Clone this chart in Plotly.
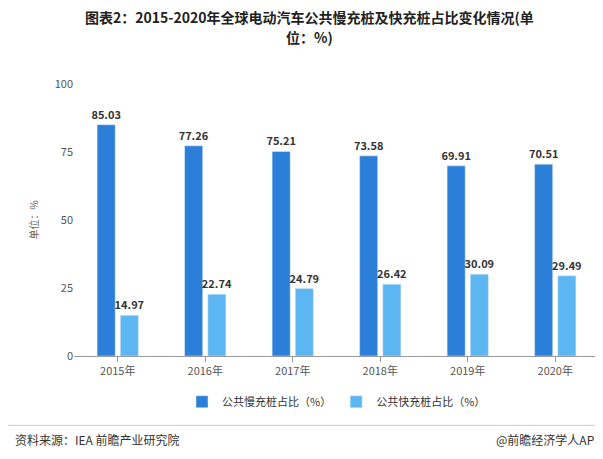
import plotly.graph_objects as go

years = ["2015年", "2016年", "2017年", "2018年", "2019年", "2020年"]
slow = [85.03, 77.26, 75.21, 73.58, 69.91, 70.51]
fast = [14.97, 22.74, 24.79, 26.42, 30.09, 29.49]

font = "Noto Sans CJK SC"
fig = go.Figure()
for vals, name, col in [(slow, "公共慢充桩占比（%）", "#2b7fd8"), (fast, "公共快充桩占比（%）", "#5cb6f2")]:
    fig.add_bar(x=years, y=vals, name=name, marker_color=col,
                text=[f"<b>{v:.2f}</b>" for v in vals], textposition="outside",
                constraintext="none",
                textfont=dict(size=11, color="#333", family=font), cliponaxis=False)
fig.update_layout(
    width=603, height=459, plot_bgcolor="white", paper_bgcolor="white",
    font=dict(family=font, size=11, color="#555"),
    barmode="group", bargap=0.47, bargroupgap=0.22,
    margin=dict(l=66, r=12, t=76, b=111),
    yaxis=dict(range=[0, 100], tickvals=[0, 25, 50, 75, 100], showgrid=False,
               zeroline=False, showline=False, ticks="",
               title=dict(text="单位：%", font=dict(size=10, color="#666"), standoff=14),
               tickfont=dict(size=11)),
    xaxis=dict(showline=True, linecolor="#999", ticks="outside", tickcolor="#999", ticklen=5,
               tickfont=dict(size=11)),
    legend=dict(orientation="h", x=0.5, xanchor="center", y=-0.115, yanchor="top",
                font=dict(size=11, color="#333"), itemwidth=30),
)
tx = (301.5 - 66) / (603 - 66 - 12)
fig.add_annotation(text="<b>图表2：2015-2020年全球电动汽车公共慢充桩及快充桩占比变化情况(单</b>",
                   x=tx, xref="paper", xanchor="center", y=1, yref="paper", yanchor="bottom",
                   yshift=55, showarrow=False, font=dict(size=14, color="#222"))
fig.add_annotation(text="<b>位：%)</b>", x=tx, xref="paper", xanchor="center",
                   y=1, yref="paper", yanchor="bottom", yshift=35,
                   showarrow=False, font=dict(size=14, color="#222"))
fig.add_annotation(text="资料来源：IEA 前瞻产业研究院", x=0, xref="paper", xanchor="left",
                   y=-0.27, yref="paper", yanchor="top", showarrow=False,
                   font=dict(size=12, color="#333"), xshift=-61)
fig.add_annotation(text="@前瞻经济学人APP", x=1, xref="paper", xanchor="right",
                   y=-0.27, yref="paper", yanchor="top", showarrow=False,
                   font=dict(size=12, color="#333"), xshift=5)
fig.add_shape(type="line", xref="paper", yref="paper", x0=-0.13, x1=1.02, y0=-0.255, y1=-0.255,
              line=dict(color="#ccc", width=1))
fig.write_html("out.html")
